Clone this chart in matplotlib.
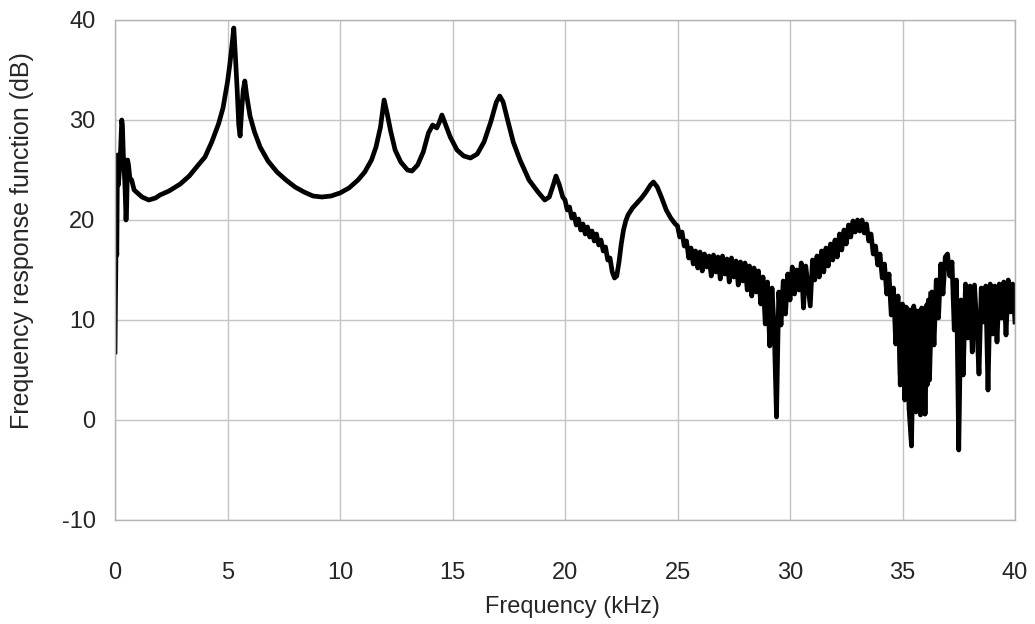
import matplotlib
matplotlib.use("Agg")
import matplotlib.pyplot as plt
import numpy as np

plt.rcParams['axes.unicode_minus'] = False

# smooth part, 0 - 20 kHz
freq_low = [0.0, 0.02, 0.05, 0.08, 0.11, 0.15, 0.2, 0.25, 0.3, 0.33,
            0.37, 0.41, 0.45, 0.49, 0.52, 0.56, 0.6, 0.66, 0.74, 0.85,
            1.0, 1.2, 1.5, 1.8, 2.0, 2.4, 2.9, 3.3, 3.7, 4.0,
            4.3, 4.6, 4.8, 5.0, 5.1, 5.2, 5.28, 5.36, 5.43, 5.5,
            5.56, 5.63, 5.7, 5.77, 5.85, 6.0, 6.2, 6.45, 6.8, 7.2,
            7.6, 8.0, 8.4, 8.8, 9.2, 9.6, 10.0, 10.4, 10.8, 11.1,
            11.4, 11.6, 11.8, 11.96, 12.1, 12.25, 12.45, 12.7, 13.0, 13.2,
            13.45, 13.7, 13.93, 14.12, 14.3, 14.42, 14.53, 14.7, 14.9, 15.2,
            15.5, 15.8, 16.1, 16.4, 16.7, 16.95, 17.1, 17.25, 17.45, 17.7,
            18.0, 18.4, 18.8, 19.1, 19.3, 19.45, 19.6, 19.75, 19.9]
db_low = [6.8, 12.0, 18.0, 16.5, 26.5, 23.5, 25.0, 27.0, 30.0, 29.5,
          26.5, 25.0, 23.0, 20.0, 21.5, 26.0, 25.5, 24.2, 24.0, 23.0,
          22.7, 22.3, 22.0, 22.2, 22.5, 22.9, 23.6, 24.4, 25.5, 26.3,
          27.8, 29.6, 31.2, 33.8, 35.5, 37.5, 39.2, 36.0, 33.0, 29.5,
          28.4, 31.0, 33.0, 33.9, 32.5, 30.4, 28.8, 27.3, 25.9, 24.8,
          24.0, 23.3, 22.8, 22.4, 22.3, 22.4, 22.7, 23.2, 24.0, 24.8,
          26.0, 27.3, 29.3, 32.0, 30.6, 28.9, 27.0, 25.8, 25.0, 24.9,
          25.5, 26.8, 28.7, 29.5, 29.2, 29.8, 30.5, 29.5, 28.3, 27.0,
          26.4, 26.2, 26.6, 27.8, 29.8, 31.8, 32.4, 31.8, 30.0, 27.8,
          26.0, 24.0, 22.8, 22.0, 22.3, 23.3, 24.4, 23.5, 22.3]

# slightly noisy part, 20.0 - 22.2 kHz, 0.1 kHz steps
db_20 = [22.0, 21.0, 21.3, 20.2, 20.6, 19.5, 20.1, 19.0, 19.6, 18.6,
         19.3, 18.3, 18.9, 17.9, 18.6, 17.5, 18.0, 16.9, 17.3, 16.0,
         16.2, 14.8, 14.2]

# dip recovery and peak near 24 kHz
freq_mid = [22.3, 22.4, 22.5, 22.6, 22.7, 22.8, 23.0, 23.2, 23.4, 23.6,
            23.8, 23.93, 24.1, 24.3, 24.5, 24.7, 24.9]
db_mid = [14.4, 15.8, 17.6, 19.0, 19.9, 20.5, 21.2, 21.7, 22.2, 22.8,
          23.5, 23.8, 23.3, 22.2, 21.0, 20.2, 19.6]

# noisy part, 25.0 - 40.0 kHz, 0.1 kHz steps
db_25 = [19.4, 18.3, 18.8, 17.4, 17.9, 16.2, 17.2, 15.6, 16.9, 15.2,
         16.8, 14.9, 16.6, 15.3, 16.4, 14.4, 16.5, 14.8, 16.3, 14.1,
         16.4, 14.6, 16.1, 13.8, 16.2, 14.3, 15.9, 13.5, 15.8, 13.9,
         15.7, 13.0, 15.4, 12.4, 15.2, 12.8, 14.9, 11.6, 14.3, 9.6,
         13.8, 7.4, 13.2, 9.0, 0.3, 12.8, 9.5, 13.9, 10.6, 14.6,
         12.0, 15.3, 12.6, 15.0, 13.0, 15.7, 11.2, 15.4, 13.4, 11.4,
         16.0, 14.0, 16.4, 14.3, 16.9, 14.8, 17.2, 15.4, 17.6, 16.0,
         18.0, 16.3, 18.6, 17.0, 19.0, 17.6, 19.5, 18.3, 19.9, 18.8,
         20.0, 18.9, 20.0, 18.7, 19.6, 17.9, 18.6, 16.6, 17.4, 15.5,
         16.6, 14.2, 15.6, 12.6, 14.6, 10.5, 13.2, 7.6, 12.4, 4.5,
         11.6, 2.8, 11.2, 0.8, -2.6, 11.4, 1.2, 10.9, 0.6, 11.0,
         0.6, 11.6, 4.0, 12.8, 7.5, 14.0, 10.2, 15.6, 12.6, 16.3,
         16.6, 14.4, 15.8, 9.0, 14.0, -3.0, 12.0, 4.5, 13.6, 8.2,
         13.4, 6.8, 13.5, 9.5, 4.6, 13.2, 9.8, 13.4, 3.0, 13.6,
         8.6, 13.4, 7.8, 13.6, 10.2, 13.8, 8.5, 14.0, 10.8, 13.6,
         9.8]

# extra, finer samples in the deep notch, 34.85 - 36.25 kHz, 0.05 kHz steps
db_35 = [11.5, 3.5, 11.2, 6.0, 11.0, 2.0, 11.3, 4.5, 10.8, 1.0,
         11.0, -2.2, 10.6, 3.0, 11.0, 0.8, 10.5, 2.5, 10.8, 0.5,
         11.2, 2.0, 10.9, 0.6, 11.4, 3.5, 12.0, 5.5, 12.6]

assert len(freq_low) == len(db_low)
assert len(freq_mid) == len(db_mid)

freq_20 = 20.0 + 0.1 * np.arange(len(db_20))
freq_25 = 25.0 + 0.1 * np.arange(len(db_25))
freq_35 = 34.85 + 0.05 * np.arange(len(db_35))

freq = np.concatenate([freq_low, freq_20, freq_mid, freq_25])
db = np.concatenate([db_low, db_20, db_mid, db_25])

xticks = [0, 5, 10, 15, 20, 25, 30, 35, 40]
yticks = [-10, 0, 10, 20, 30, 40]

font = ['Liberation Sans', 'DejaVu Sans']
tcol = '#262626'

fig = plt.figure(figsize=(10.35, 6.24), dpi=100)
ax = fig.add_axes([115 / 1035, 104 / 624, 900 / 1035, 500 / 624])

ax.plot(freq, db, color='black', lw=3.4, solid_joinstyle='round')
ax.plot(freq_35, db_35, color='black', lw=3.4, solid_joinstyle='round')

ax.set_xlim(0, 40)
ax.set_ylim(-10, 40)
ax.set_xticks(xticks)
ax.set_yticks(yticks)
ax.grid(True, color='#c4c4c4', lw=1.0)
ax.set_axisbelow(True)
for s in ax.spines.values():
    s.set_color('#b4b4b4')
    s.set_linewidth(1.0)

ax.tick_params(axis='both', length=0)
ax.tick_params(axis='x', pad=30)
ax.tick_params(axis='y', pad=14)
for lab in ax.get_xticklabels() + ax.get_yticklabels():
    lab.set_fontfamily(font)
    lab.set_fontsize(17)
    lab.set_color(tcol)

ax.set_xlabel('Frequency (kHz)', fontsize=17, family=font, color=tcol)
ax.set_ylabel('Frequency response function (dB)', fontsize=18, family=font,
              color=tcol)
ax.xaxis.set_label_coords(0.508, -0.152)
ax.yaxis.set_label_coords(-0.09, 0.558)

fig.savefig('out.png', dpi=100)
